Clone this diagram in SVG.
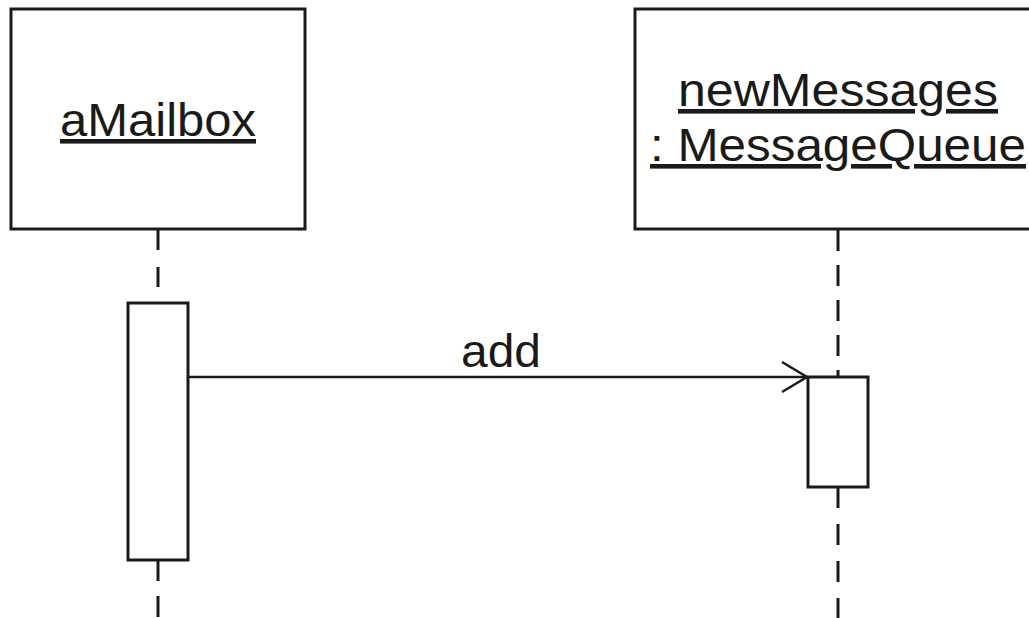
<svg xmlns="http://www.w3.org/2000/svg" width="1029" height="618" viewBox="0 0 1029 618">
<style>
.box{fill:#fff;stroke:#1a1a1a;stroke-width:3}
.act{fill:#fff;stroke:#1a1a1a;stroke-width:3}
.life{stroke:#1a1a1a;stroke-width:3;stroke-dasharray:20 17;fill:none}
.msg{stroke:#1a1a1a;stroke-width:2.5;fill:none}
.t{font-family:"Liberation Sans",Arial,Helvetica,sans-serif;font-size:46px;fill:#1a1a1a}
.u{text-decoration:underline}
</style>
<rect width="1029" height="618" fill="#fff"/>
<g id="connectors">
<line class="life" x1="158" y1="230" x2="158" y2="303"/>
<line class="life" x1="158" y1="560" x2="158" y2="618" style="stroke-dasharray:21 15"/>
<line class="life" x1="838" y1="230" x2="838" y2="377" style="stroke-dasharray:21 14"/>
<line class="life" x1="838" y1="487" x2="838" y2="618" style="stroke-dasharray:21 16"/>
<g id="msg-add">
<line class="msg" x1="188" y1="377" x2="807" y2="377"/>
<polyline class="msg" points="782,362 807,377 782,392"/>
<text class="t" x="501" y="367" text-anchor="middle" textLength="80" lengthAdjust="spacingAndGlyphs">add</text>
</g>
</g>
<g id="aMailbox">
<rect class="box" x="11" y="9" width="294" height="220"/>
<text class="t u" x="60" y="136" textLength="196" lengthAdjust="spacingAndGlyphs">aMailbox</text>
</g>
<g id="newMessages">
<rect class="box" x="635" y="9" width="400" height="220"/>
<text class="t u" x="678" y="106" textLength="320" lengthAdjust="spacingAndGlyphs">newMessages</text>
<text class="t u" x="650" y="161" textLength="376" lengthAdjust="spacingAndGlyphs">: MessageQueue</text>
</g>
<g id="act-aMailbox">
<rect class="act" x="128" y="303" width="60" height="257"/>
</g>
<g id="act-newMessages">
<rect class="act" x="808" y="377" width="60" height="110"/>
</g>
</svg>
